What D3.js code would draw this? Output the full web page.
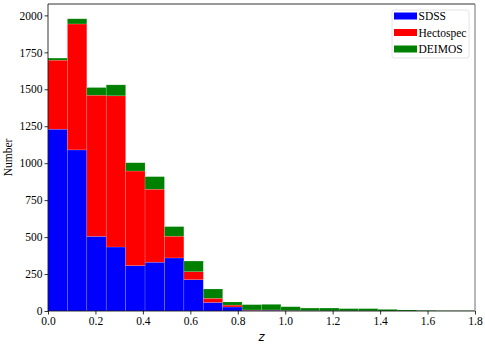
<!DOCTYPE html>
<html>
<head>
<meta charset="utf-8">
<script src="https://cdn.jsdelivr.net/npm/d3@7"></script>
<style>
  body { margin: 0; background: #fff; }
  svg { display: block; }
</style>
</head>
<body>
<svg id="chart"></svg>
<script>
var width = 485;
var height = 346;

// redshift histogram, 22 bins over [0, 1.8]
var binEdges = d3.range(23).map(i => i * 1.8 / 22);
var sdss      = [1230, 1090, 505, 433, 307, 330, 359, 212, 58, 27, 4, 5, 2, 2, 1, 1, 1, 0, 0, 0, 0, 0];
var hectospec = [467, 852, 955, 1023, 640, 494, 147, 54, 28, 13, 3, 2, 1, 0, 0, 0, 0, 0, 0, 0, 0, 0];
var deimos    = [14, 35, 52, 74, 56, 85, 65, 72, 63, 21, 36, 38, 26, 18, 19, 15, 15, 11, 7, 4, 2, 2];
var seriesNames = ['SDSS', 'Hectospec', 'DEIMOS'];
var seriesColors = ['#0000ff', '#ff0000', '#008000'];
var xTicks = [0, 0.2, 0.4, 0.6, 0.8, 1.0, 1.2, 1.4, 1.6, 1.8];
var yTicks = [0, 250, 500, 750, 1000, 1250, 1500, 1750, 2000];

var margin = {left: 48, right: 10, top: 4, bottom: 35};

var svg = d3.select('#chart')
    .attr('width', width)
    .attr('height', height);

var xScale = d3.scaleLinear()
    .domain([0, 1.8])
    .range([margin.left, width - margin.right]);

var yScale = d3.scaleLinear()
    .domain([0, 2077])
    .range([height - margin.bottom, margin.top]);

var rows = binEdges.slice(0, -1).map((x0, i) => ({
  x0: x0, x1: binEdges[i + 1],
  SDSS: sdss[i], Hectospec: hectospec[i], DEIMOS: deimos[i]
}));

var stacked = d3.stack().keys(seriesNames)(rows);

svg.append('g')
  .selectAll('g')
  .data(stacked)
  .join('g')
    .attr('fill', (d, i) => seriesColors[i])
  .selectAll('rect')
  .data(d => d)
  .join('rect')
    .attr('x', d => xScale(d.data.x0))
    .attr('width', d => xScale(d.data.x1) - xScale(d.data.x0))
    .attr('y', d => yScale(d[1]))
    .attr('height', d => yScale(d[0]) - yScale(d[1]))
    .attr('stroke', 'rgba(255,255,255,0.25)')
    .attr('stroke-width', 0.6);

var font = "'Liberation Serif', 'Times New Roman', serif";

var xAxis = svg.append('g')
    .attr('transform', 'translate(0,' + (height - margin.bottom) + ')')
    .call(d3.axisBottom(xScale).tickValues(xTicks).tickFormat(d3.format('.1f')).tickSize(3.5).tickPadding(2));

var yAxis = svg.append('g')
    .attr('transform', 'translate(' + margin.left + ',0)')
    .call(d3.axisLeft(yScale).tickValues(yTicks).tickFormat(d3.format('d')).tickSize(3.5).tickPadding(2));

[xAxis, yAxis].forEach(ax => {
  ax.select('.domain').remove();
  ax.selectAll('text').attr('font-family', font).attr('font-size', 11.5).attr('fill', '#000');
  ax.selectAll('line').attr('stroke', '#000').attr('stroke-width', 0.8);
});

// frame
var x0 = xScale.range()[0], x1 = xScale.range()[1];
var y0 = yScale.range()[0], y1 = yScale.range()[1];
svg.append('line').attr('x1', x0).attr('x2', x0).attr('y1', y0).attr('y2', y1).attr('stroke', '#000').attr('stroke-width', 0.8);
svg.append('line').attr('x1', x0).attr('x2', x1).attr('y1', y0).attr('y2', y0).attr('stroke', '#000').attr('stroke-width', 0.8);
svg.append('line').attr('x1', x0).attr('x2', x1).attr('y1', y1).attr('y2', y1).attr('stroke', '#000').attr('stroke-width', 0.8);
svg.append('line').attr('x1', x1).attr('x2', x1).attr('y1', y0).attr('y2', y1).attr('stroke', '#888').attr('stroke-width', 1.2);

// axis labels
svg.append('text')
    .attr('x', (x0 + x1) / 2)
    .attr('y', 341)
    .attr('text-anchor', 'middle')
    .attr('font-family', "'DejaVu Sans', sans-serif")
    .attr('font-style', 'italic')
    .attr('font-size', 11.5)
    .text('z');

svg.append('text')
    .attr('transform', 'translate(12,' + ((y0 + y1) / 2) + ') rotate(-90)')
    .attr('text-anchor', 'middle')
    .attr('font-family', font)
    .attr('font-size', 11.5)
    .text('Number');

// legend
var legend = svg.append('g').attr('transform', 'translate(392,10)');
legend.append('rect')
    .attr('width', 77).attr('height', 48)
    .attr('rx', 2)
    .attr('fill', '#fff')
    .attr('stroke', '#ddd')
    .attr('stroke-width', 0.8);
seriesNames.forEach((name, i) => {
  var g = legend.append('g').attr('transform', 'translate(2,' + (6 + i * 16.5) + ')');
  g.append('rect').attr('width', 23).attr('height', 7).attr('y', -3.5).attr('fill', seriesColors[i]);
  g.append('text')
      .attr('x', 24.5).attr('y', 0).attr('dy', '0.35em')
      .attr('font-family', font)
      .attr('font-size', 11.5)
      .text(name);
});
</script>
</body>
</html>
